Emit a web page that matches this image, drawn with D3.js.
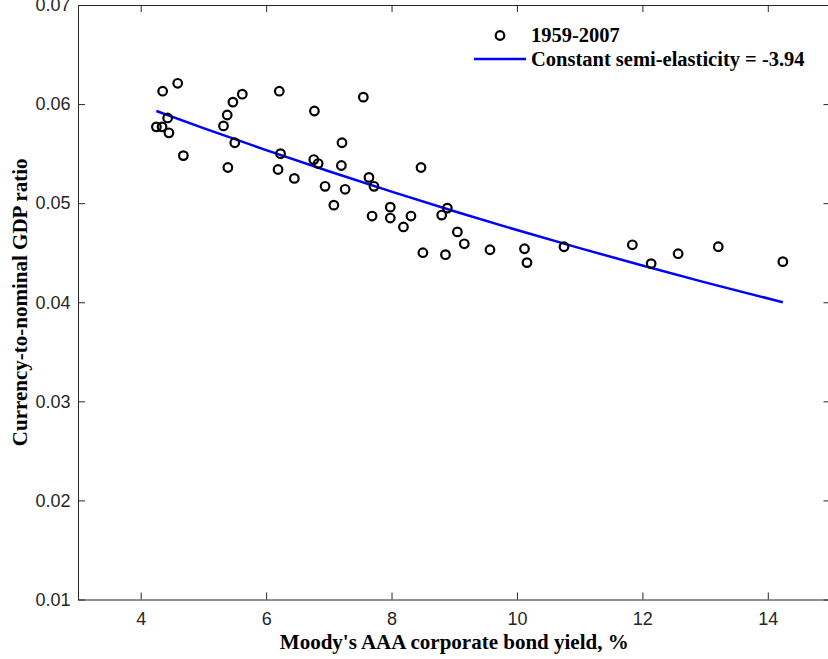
<!DOCTYPE html>
<html>
<head>
<meta charset="utf-8">
<script src="https://cdn.jsdelivr.net/npm/d3@7"></script>
<style>
  html, body { margin: 0; padding: 0; background: #fff; }
  svg { display: block; }
</style>
</head>
<body>
<svg id="chart" width="828" height="659"></svg>
<script>
// ---- Data ----
const bondYield = [4.35, 4.59, 4.25, 4.34, 4.43, 4.45, 4.68, 5.38, 5.32, 5.47,
                   5.62, 5.50, 5.39, 6.21, 6.23, 6.19, 6.45, 6.77, 6.76, 6.83,
                   7.21, 7.20, 6.94, 7.26, 7.08, 7.55, 7.64, 7.72, 7.69, 8.47,
                   7.98, 7.98, 8.31, 8.19, 8.89, 8.80, 9.05, 9.16, 8.50, 8.86,
                   9.57, 10.12, 10.16, 10.75, 11.84, 12.14, 12.57, 13.21, 14.24];
const currencyRatio = [0.0613, 0.0621, 0.0577, 0.0577, 0.0586, 0.0571, 0.0548, 0.0589, 0.0578, 0.0602,
                       0.0610, 0.0561, 0.0536, 0.0613, 0.0550, 0.0534, 0.0525, 0.0593, 0.0544, 0.0540,
                       0.0561, 0.0538, 0.0517, 0.0514, 0.0498, 0.0607, 0.0526, 0.0517, 0.0487, 0.0536,
                       0.0496, 0.0485, 0.0487, 0.0476, 0.0495, 0.0488, 0.0471, 0.0459, 0.0450, 0.0448,
                       0.0453, 0.0454, 0.0440, 0.0456, 0.0458, 0.0439, 0.0449, 0.0456, 0.0441];
const fitYield = [4.25, 5, 6, 7, 8, 9, 10, 11, 12, 13, 14.24];
const fitRatio = [0.0593, 0.05758, 0.05536, 0.05322, 0.05117, 0.04918, 0.04729, 0.04546, 0.04371, 0.04201, 0.0400];
const xTicks = [4, 6, 8, 10, 12, 14];
const yTicks = [0.01, 0.02, 0.03, 0.04, 0.05, 0.06, 0.07];
const seriesLabels = ["1959-2007", "Constant semi-elasticity = -3.94"];
const xTitle = "Moody's AAA corporate bond yield, %";
const yTitle = "Currency-to-nominal GDP ratio";

// ---- Layout ----
const pLeft = 78, pRight = 830.5, pTop = 5, pBottom = 599.5;
const svg = d3.select("#chart");
const x = d3.scaleLinear().domain([3, 15]).range([pLeft, pRight]);
const y = d3.scaleLinear().domain([0.01, 0.07]).range([pBottom, pTop]);
const axisColor = "#262626";
const tickFont = "'Liberation Sans', Arial, Helvetica, sans-serif";
const titleFont = "'Liberation Serif', 'Times New Roman', Times, serif";

// Axes (ticks inward like MATLAB)
const gx = svg.append("g").attr("transform", `translate(0,${pBottom})`)
  .call(d3.axisBottom(x).tickValues(xTicks).tickSizeInner(-7).tickSizeOuter(0).tickPadding(12.5)
        .tickFormat(d3.format("d")));
const gxTop = svg.append("g").attr("transform", `translate(0,${pTop})`)
  .call(d3.axisTop(x).tickValues(xTicks).tickSizeInner(-7).tickSizeOuter(0).tickFormat(""));
const gy = svg.append("g").attr("transform", `translate(${pLeft},0)`)
  .call(d3.axisLeft(y).tickValues(yTicks).tickSizeInner(-7).tickSizeOuter(0).tickPadding(7.5)
        .tickFormat(d3.format(".2f")));
const gyRight = svg.append("g").attr("transform", `translate(${pRight},0)`)
  .call(d3.axisRight(y).tickValues(yTicks).tickSizeInner(-7).tickSizeOuter(0).tickFormat(""));

[gx, gxTop, gy, gyRight].forEach(g => {
  g.selectAll(".domain").attr("stroke", axisColor).attr("stroke-width", 1);
  g.selectAll(".tick line").attr("stroke", axisColor).attr("stroke-width", 1);
  g.selectAll(".tick text").attr("fill", axisColor)
    .style("font-family", tickFont).style("font-size", "18px");
});
gx.selectAll(".tick text").attr("dy", "0.71em");

// Fitted line
svg.append("path")
  .datum(fitYield.map((d, i) => [d, fitRatio[i]]))
  .attr("fill", "none")
  .attr("stroke", "#0000ff")
  .attr("stroke-width", 2.5)
  .attr("d", d3.line().x(d => x(d[0])).y(d => y(d[1])).curve(d3.curveMonotoneX));

// Scatter points
svg.append("g").selectAll("circle")
  .data(bondYield.map((d, i) => [d, currencyRatio[i]]))
  .join("circle")
  .attr("cx", d => x(d[0]))
  .attr("cy", d => y(d[1]))
  .attr("r", 4.3)
  .attr("fill", "none")
  .attr("stroke", "#000")
  .attr("stroke-width", 2.2);

// Legend
const leg = svg.append("g");
leg.append("circle").attr("cx", 500).attr("cy", 35.5).attr("r", 4.3)
  .attr("fill", "none").attr("stroke", "#000").attr("stroke-width", 2.2);
leg.append("line").attr("x1", 474).attr("x2", 526).attr("y1", 59).attr("y2", 59)
  .attr("stroke", "#0000ff").attr("stroke-width", 2.5);
leg.selectAll("text").data(seriesLabels).join("text")
  .attr("x", 531)
  .attr("y", (d, i) => i === 0 ? 35.5 : 59)
  .attr("dy", "0.33em")
  .style("font-family", titleFont).style("font-weight", "bold").style("font-size", "20.5px")
  .attr("fill", "#000")
  .text(d => d);

// Axis titles
svg.append("text")
  .attr("x", (pLeft + pRight) / 2).attr("y", 649)
  .attr("text-anchor", "middle")
  .style("font-family", titleFont).style("font-weight", "bold").style("font-size", "21px")
  .attr("fill", "#000")
  .text(xTitle);
svg.append("text")
  .attr("transform", `translate(27,${(pTop + pBottom) / 2}) rotate(-90)`)
  .attr("text-anchor", "middle")
  .style("font-family", titleFont).style("font-weight", "bold").style("font-size", "21px")
  .attr("fill", "#000")
  .text(yTitle);
</script>
</body>
</html>
